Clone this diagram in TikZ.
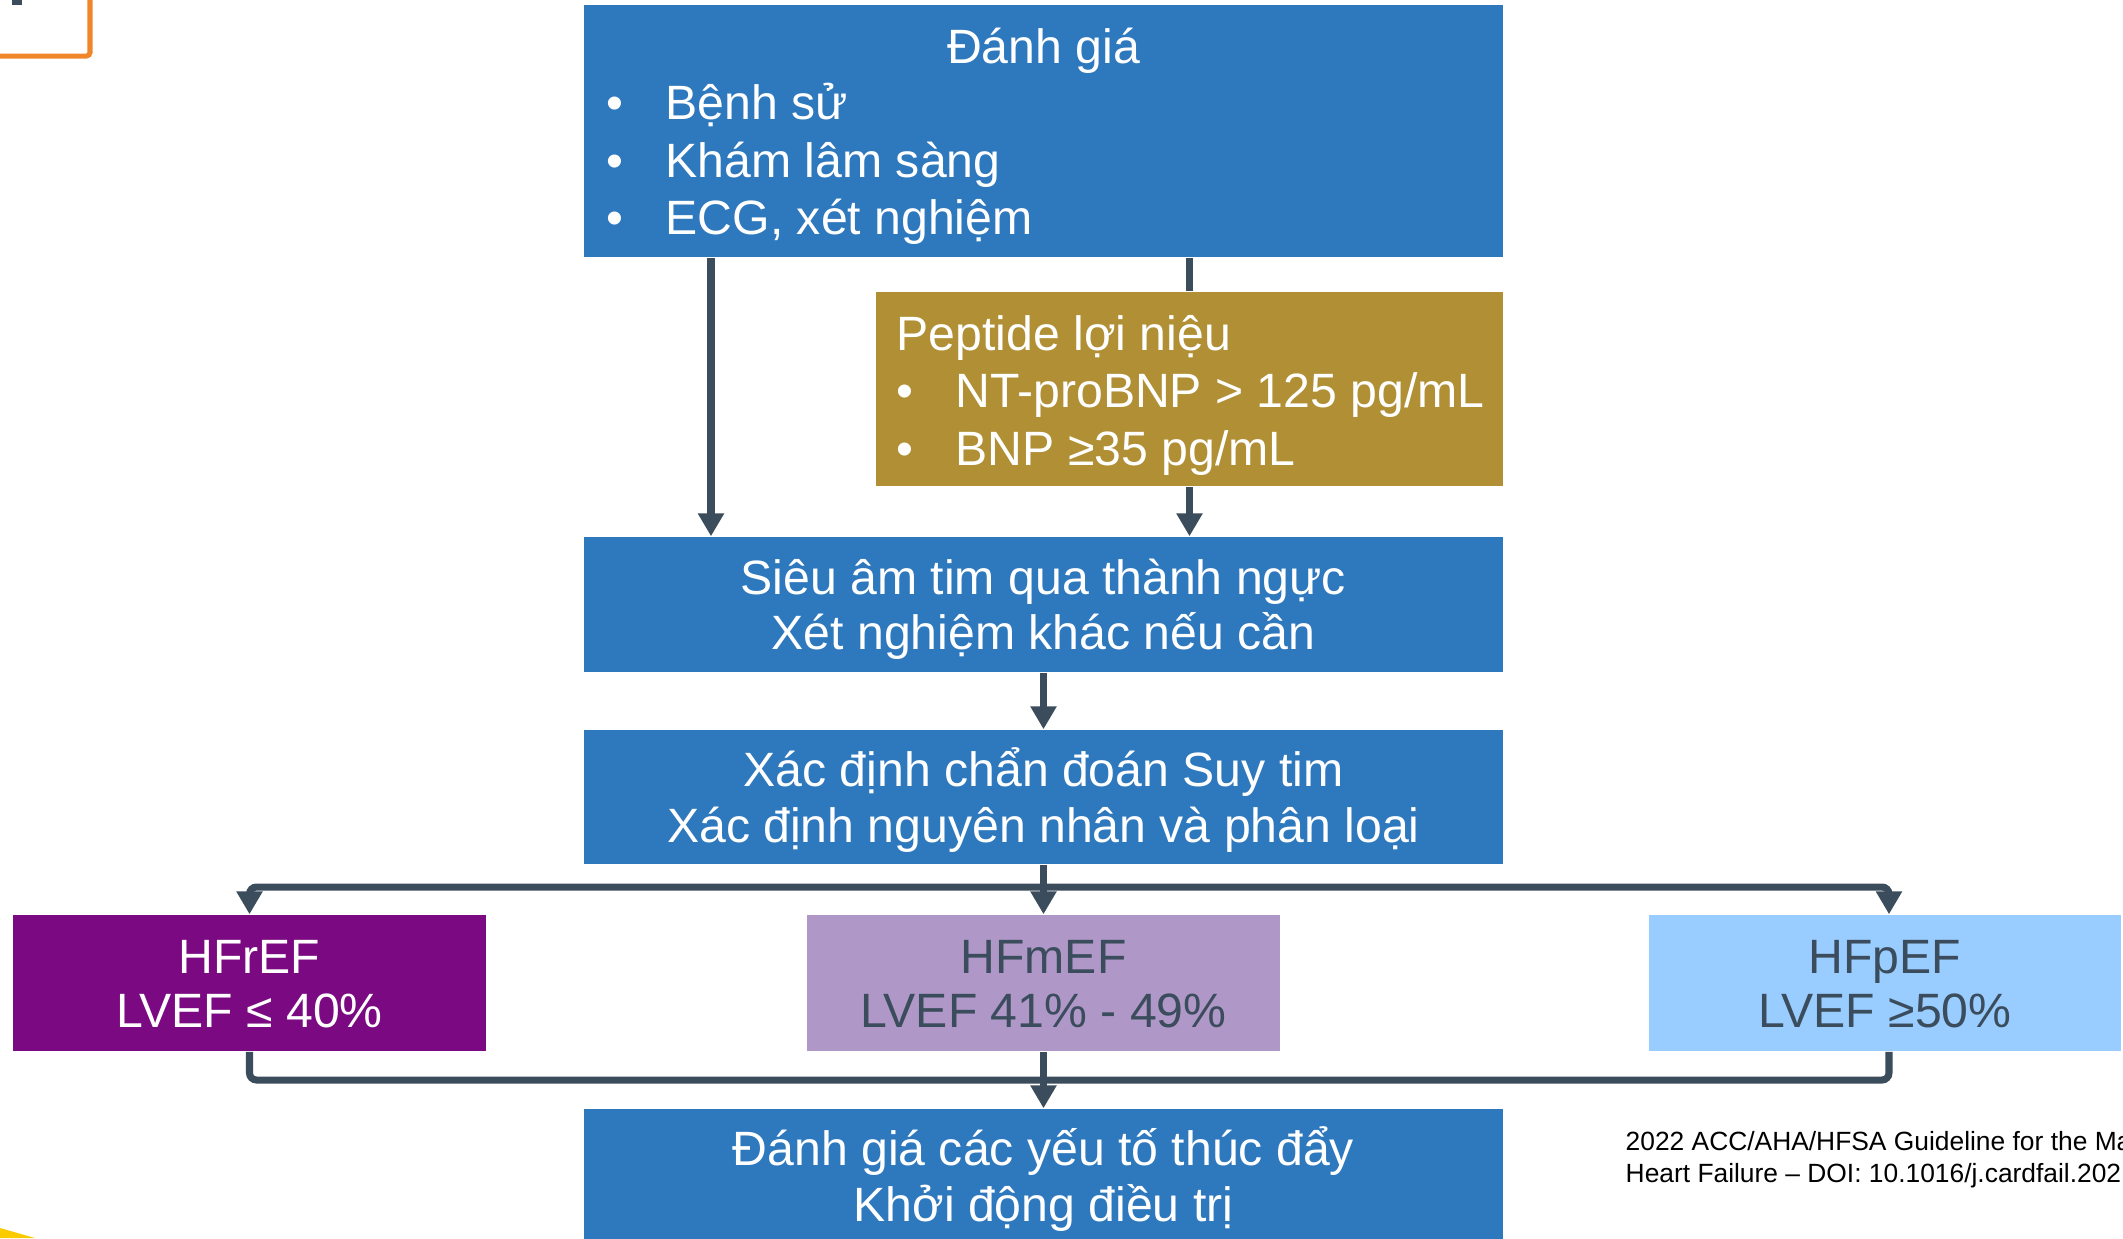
\documentclass[tikz,border=0pt]{standalone}
\usepackage{fontspec}
\setmainfont{Liberation Sans}
\definecolor{xanhBox}{RGB}{46,120,190}
\definecolor{vangNau}{RGB}{176,143,53}
\definecolor{timDam}{RGB}{123,10,130}
\definecolor{timNhat}{RGB}{175,151,199}
\definecolor{xanhNhat}{RGB}{153,204,255}
\definecolor{xamDam}{RGB}{59,76,92}
\definecolor{camVien}{RGB}{240,134,42}
\definecolor{vangGoc}{RGB}{250,204,0}
\usetikzlibrary{arrows.meta,positioning,calc}
\newcommand{\chamdau}{\makebox[0.59cm][l]{•}}
\newcommand{\haidong}[2]{\rule{0pt}{0.52cm}#1\\#2\rule[-0.17cm]{0pt}{0pt}}

\begin{document}
\begin{tikzpicture}[x=0.01cm,y=-0.01cm,
        bx/.style={rectangle,fill=xanhBox,text=white,inner sep=0pt,
                   minimum width=9.19cm,minimum height=1.34cm,align=center,
                   font=\fontsize{13.7}{15.9}\selectfont},
        gd/.style={rectangle,fill=vangNau,inner sep=0pt,
                   minimum width=6.27cm,minimum height=1.94cm},
        hf/.style={rectangle,inner sep=0pt,align=center,
                   minimum width=4.72cm,minimum height=1.36cm,
                   font=\fontsize{13.7}{15.6}\selectfont},
        txt/.style={text=white,inner sep=0pt,
                    font=\fontsize{13.7}{15.9}\selectfont},
        nguon/.style={text=black,inner sep=0pt,anchor=base west,
                      font=\fontsize{7.5}{8}\selectfont},
        ln/.style={draw=xamDam,line width=2pt,rounded corners=2pt},
        arr/.style={ln,-{Triangle[length=0.23cm,width=0.25cm]}}]
        \clip (0,0) rectangle (2123,1238);
        % decorations in the corners
        \draw[camVien,line width=0.05cm,rounded corners=1pt] (-20,-20) rectangle (90,56);
        \fill[xamDam] (12,0) rectangle (22,5);
        \fill[vangGoc] (0,1228) -- (35,1238) -- (0,1238) -- cycle;
        % boxes
        \node[bx,minimum height=2.52cm] (danhgia) at (1043.5,131) {};
        \node[txt,anchor=base] (tieude) at (1043.5,63) {Đánh giá};
        \node[txt,anchor=base west] (b1) at (606,119) {\chamdau Bệnh sử};
        \node[txt,anchor=base west] (b2) at (606,177) {\chamdau Khám lâm sàng};
        \node[txt,anchor=base west] (b3) at (606,234) {\chamdau ECG, xét nghiệm};
        \node[gd] (peptide) at (1189.5,389) {};
        \node[txt,anchor=base west] (p0) at (896,350) {Peptide lợi niệu};
        \node[txt,anchor=base west] (p1) at (896,407) {\chamdau NT-proBNP > 125 pg/mL};
        \node[txt,anchor=base west] (p2) at (896,465) {\chamdau BNP ≥35 pg/mL};
        \node[bx,minimum height=1.35cm] (sieuam) at (1043.5,604.5)
          {\haidong{Siêu âm tim qua thành ngực}{Xét nghiệm khác nếu cần}};
        \node[bx] (xacdinh) at (1043.5,797)
          {\haidong{Xác định chẩn đoán Suy tim}{Xác định nguyên nhân và phân loại}};
        \node[hf,fill=timDam,text=white] (hfref) at (249.5,983)
          {\haidong{HFrEF}{LVEF ≤ 40\%}};
        \node[hf,fill=timNhat,text=xamDam] (hfmef) at (1043.5,983)
          {\haidong{HFmEF}{LVEF 41\% - 49\%}};
        \node[hf,fill=xanhNhat,text=xamDam] (hfpef) at (1885,983)
          {\haidong{HFpEF}{LVEF ≥50\%}};
        \node[bx] (dieutri) at (1043.5,1176)
          {\haidong{Đánh giá các yếu tố thúc đẩy}{Khởi động điều trị}};
        \node[nguon] (nguon1) at (1625,1150) {2022 ACC/AHA/HFSA Guideline for the Ma};
        \node[nguon] (nguon2) at (1625,1182) {Heart Failure – DOI: 10.1016/j.cardfail.202};
        % connectors
        \coordinate (cotTrai) at (711,0);
        \coordinate (cotPhai) at (1889,0);
        \coordinate (tach) at (1043.5,887);
        \coordinate (gop) at (1043.5,1080);
        \draw[arr] (danhgia.south -| cotTrai) -- (sieuam.north -| cotTrai);
        \draw[ln] (danhgia.south -| peptide) -- (peptide.north);
        \draw[arr] (peptide.south) -- (sieuam.north -| peptide);
        \draw[arr] (sieuam.south) -- (xacdinh.north);
        \draw[ln] (xacdinh.south) -- (tach);
        \draw[arr] (tach) -| (hfref.north);
        \draw[arr] (tach) -| (hfpef.north -| cotPhai);
        \draw[arr] (tach) -- (hfmef.north);
        \draw[ln] (hfref.south) |- (gop);
        \draw[ln] (hfpef.south -| cotPhai) |- (gop);
        \draw[ln] (hfmef.south) -- (gop);
        \draw[arr] (gop) -- (dieutri.north);
      \end{tikzpicture}
\end{document}
